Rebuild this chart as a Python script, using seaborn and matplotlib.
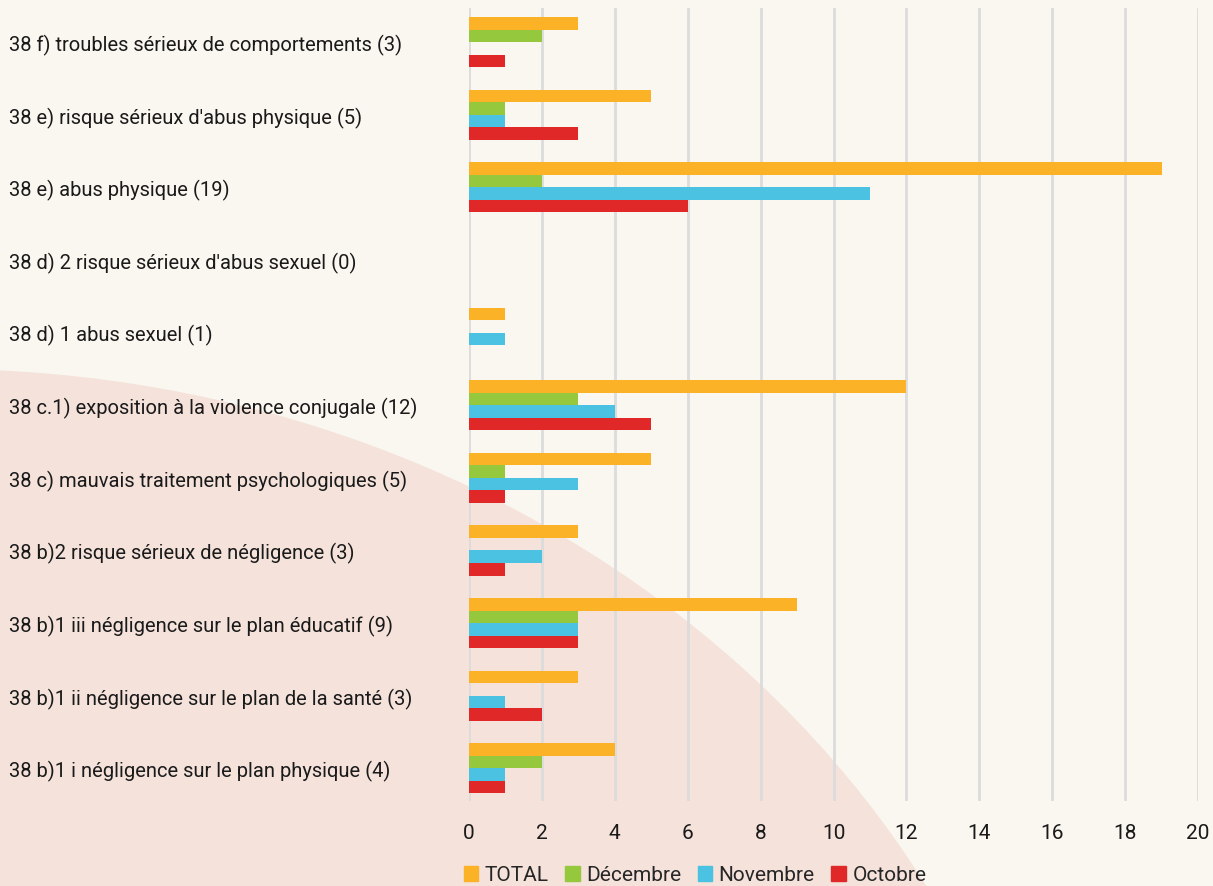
import numpy as np
import pandas as pd
import seaborn as sns
import matplotlib.pyplot as plt
from matplotlib.patches import Ellipse

categories = [
    "38 f) troubles sérieux de comportements (3)",
    "38 e) risque sérieux d'abus physique (5)",
    "38 e) abus physique (19)",
    "38 d) 2 risque sérieux d'abus sexuel (0)",
    "38 d) 1 abus sexuel (1)",
    "38 c.1) exposition à la violence conjugale (12)",
    "38 c) mauvais traitement psychologiques (5)",
    "38 b)2 risque sérieux de négligence (3)",
    "38 b)1 iii négligence sur le plan éducatif (9)",
    "38 b)1 ii négligence sur le plan de la santé (3)",
    "38 b)1 i négligence sur le plan physique (4)",
]
total = [3, 5, 19, 0, 1, 12, 5, 3, 9, 3, 4]
decembre = [2, 1, 2, 0, 0, 3, 1, 0, 3, 0, 2]
novembre = [0, 1, 11, 0, 1, 4, 3, 2, 3, 1, 1]
octobre = [1, 3, 6, 0, 0, 5, 1, 1, 3, 2, 1]
series = ["TOTAL", "Décembre", "Novembre", "Octobre"]
colors = ["#fbb226", "#96c83e", "#4bc2e2", "#e12828"]

df = pd.DataFrame({"cat": categories, "TOTAL": total, "Décembre": decembre,
                   "Novembre": novembre, "Octobre": octobre})
long = df.melt(id_vars="cat", var_name="mois", value_name="n")

sns.set_style("white")
plt.rcParams["font.family"] = ["Roboto", "DejaVu Sans"]

fig = plt.figure(figsize=(12.13, 8.87), dpi=100)
fig.patch.set_facecolor("#faf7f0")
# pink blob in the background (figure pixels)
W, H = 1213, 887
blob = Ellipse((-60 / W, 1 - 1380 / H), 2 * 1130 / W, 2 * 1010 / H,
               transform=fig.transFigure, facecolor="#f4e2db", edgecolor="none", zorder=-5)
fig.patches.append(blob)

ax = fig.add_axes([469 / W, 1 - 802 / H, (1198 - 469) / W, (802 - 9) / H])
ax.set_zorder(2)
ax.set_facecolor("none")

sns.barplot(data=long, y="cat", x="n", hue="mois", hue_order=series,
            palette=colors, orient="h", width=0.69, saturation=1,
            order=categories, ax=ax, zorder=3, linewidth=0)

ax.set_xlim(0, 20)
ax.set_ylim(10.45, -0.47)
ax.set_xticks(np.arange(0, 21, 2))
ax.grid(axis="x", color="#dcdcdc", linewidth=2, zorder=0)
ax.grid(axis="y", visible=False)
ax.set_axisbelow(True)
for s in ax.spines.values():
    s.set_visible(False)
ax.set_xlabel("")
ax.set_ylabel("")
ax.tick_params(axis="x", length=0, pad=16, labelsize=15, labelcolor="#1a1a1a")
ax.tick_params(axis="y", length=0, pad=331, labelsize=14.5, labelcolor="#1a1a1a")
for lab in ax.get_yticklabels():
    lab.set_horizontalalignment("left")

ax.legend_.remove()
handles = [plt.Rectangle((0, 0), 1, 1, color=c) for c in colors]
fig.legend(handles, series, loc="center", bbox_to_anchor=(695 / W, 1 - 876 / H),
           ncol=4, frameon=False, fontsize=15, handlelength=0.7, handleheight=0.7,
           handletextpad=0.3, columnspacing=0.8)

fig.savefig("out.png", dpi=100, facecolor=fig.get_facecolor())
